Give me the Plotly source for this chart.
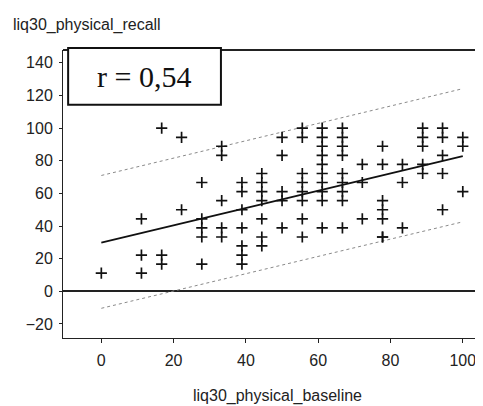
import plotly.graph_objects as go

# baseline score -> recall scores observed at that baseline
baseline = [0,
            11.1, 11.1, 11.1,
            16.7, 16.7, 16.7,
            22.2, 22.2,
            27.8, 27.8, 27.8, 27.8, 27.8,
            33.3, 33.3, 33.3, 33.3, 33.3,
            38.9, 38.9, 38.9, 38.9, 38.9, 38.9, 38.9,
            44.4, 44.4, 44.4, 44.4, 44.4, 44.4, 44.4,
            50, 50, 50, 50, 50,
            55.6, 55.6, 55.6, 55.6, 55.6, 55.6, 55.6, 55.6,
            61.1, 61.1, 61.1, 61.1, 61.1, 61.1, 61.1, 61.1, 61.1, 61.1,
            66.7, 66.7, 66.7, 66.7, 66.7, 66.7, 66.7, 66.7, 66.7,
            72.2, 72.2, 72.2,
            77.8, 77.8, 77.8, 77.8, 77.8, 77.8, 77.8,
            83.3, 83.3, 83.3,
            88.9, 88.9, 88.9, 88.9, 88.9,
            94.4, 94.4, 94.4, 94.4, 94.4,
            100, 100, 100]
recall = [11.1,
          44.4, 22.2, 11.1,
          100, 22.2, 16.7,
          94.4, 50,
          66.7, 44.4, 38.9, 33.3, 16.7,
          88.9, 83.3, 55.6, 38.9, 33.3,
          66.7, 61.1, 50, 38.9, 27.8, 22.2, 16.7,
          72.2, 66.7, 61.1, 55.6, 44.4, 33.3, 27.8,
          94.4, 83.3, 61.1, 55.6, 38.9,
          100, 94.4, 72.2, 66.7, 61.1, 55.6, 44.4, 33.3,
          100, 94.4, 88.9, 83.3, 77.8, 72.2, 66.7, 61.1, 55.6, 38.9,
          100, 94.4, 88.9, 83.3, 72.2, 66.7, 61.1, 55.6, 38.9,
          77.8, 66.7, 44.4,
          88.9, 77.8, 55.6, 50, 44.4, 33.3, 33.3,
          77.8, 66.7, 38.9,
          100, 94.4, 88.9, 77.8, 72.2,
          100, 94.4, 83.3, 72.2, 50,
          94.4, 88.9, 61.1]

# regression line and prediction band
line_x = [0, 50, 100]
fit_y = [29.8, 56.3, 82.8]
upper_y = [71, 97.5, 124.2]
lower_y = [-10.4, 16, 42.6]

r_label = "r = 0,54"
x_title = "liq30_physical_baseline"
y_title = "liq30_physical_recall"

fig = go.Figure()
fig.add_trace(go.Scatter(x=line_x, y=upper_y, mode="lines",
                         line=dict(color="#8a8a8a", width=1, dash="dot")))
fig.add_trace(go.Scatter(x=line_x, y=lower_y, mode="lines",
                         line=dict(color="#8a8a8a", width=1, dash="dot")))
fig.add_trace(go.Scatter(x=line_x, y=fit_y, mode="lines",
                         line=dict(color="#111111", width=1.8)))
fig.add_trace(go.Scatter(x=baseline, y=recall, mode="markers",
                         marker=dict(symbol="cross-thin", size=8,
                                     line=dict(width=1.7, color="#111111"))))

font_ax = dict(family="Liberation Sans, Arial, sans-serif", size=16, color="#222222")

fig.update_layout(
    width=483, height=406,
    paper_bgcolor="white", plot_bgcolor="white",
    showlegend=False,
    margin=dict(l=55, r=0, t=42, b=76),
    font=font_ax,
    xaxis=dict(range=[-10.6, 107.8], tickvals=[0, 20, 40, 60, 80, 100],
               showgrid=False, zeroline=False, showline=True,
               linecolor="#222222", linewidth=1,
               ticks="outside", ticklen=4, tickcolor="#222222",
               ticklabelstandoff=4, tickfont=font_ax),
    yaxis=dict(range=[-28.6, 147.9], tickvals=[-20, 0, 20, 40, 60, 80, 100, 120, 140],
               showgrid=False, zeroline=True, zerolinecolor="#222222",
               zerolinewidth=1.5, showline=True,
               linecolor="#222222", linewidth=1,
               ticks="outside", ticklen=3, tickcolor="#222222",
               ticklabelstandoff=3, tickfont=font_ax),
)

# top frame line
fig.add_shape(type="line", xref="paper", yref="paper", x0=0, x1=1, y0=1, y1=1,
              line=dict(color="#222222", width=2))
# correlation box
fig.add_shape(type="rect", xref="paper", yref="paper",
              x0=0.012, x1=0.369, y0=0.81, y1=1.007,
              line=dict(color="#111111", width=2), fillcolor="white")
fig.add_annotation(text=r_label, xref="paper", yref="paper", x=0.19, y=0.908,
                   showarrow=False, xanchor="center", yanchor="middle",
                   font=dict(family="Liberation Serif, Times New Roman, serif",
                             size=30, color="#111111"))

fig.add_annotation(text=y_title, xref="paper", yref="paper", x=-55 / 428, y=1.087,
                   showarrow=False, xanchor="left", yanchor="middle",
                   xshift=3, font=font_ax)
fig.add_annotation(text=x_title, xref="paper", yref="paper", x=0.5, y=-0.2,
                   showarrow=False, xanchor="center", yanchor="middle",
                   font=font_ax)

fig.write_html("out.html")
